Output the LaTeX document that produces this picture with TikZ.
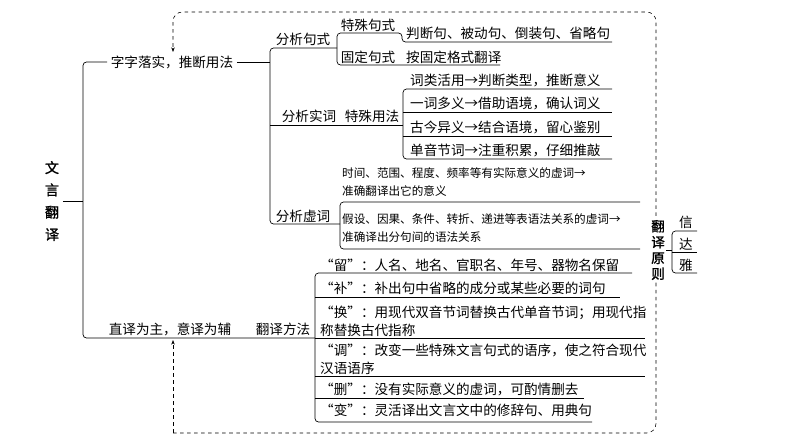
\documentclass[tikz,border=0pt]{standalone}
\usepackage{fontspec}
\newfontfamily\cjk{Noto Sans CJK SC}
\newfontfamily\cjkb{Noto Sans CJK SC}[FakeBold=1.5]
\usetikzlibrary{positioning}
\usetikzlibrary{arrows.meta}

\begin{document}
\begin{tikzpicture}[x=0.03cm,y=-0.03cm,
  txt/.style={inner sep=0pt,font=\cjk\fontsize{11.6}{15.5}\selectfont},
  item/.style={txt,anchor=west,align=left},
  narrow/.style={item,font=\cjk\fontsize{9.9}{15.5}\selectfont},
  ln/.style={line width=0.6pt},
  br/.style={line width=0.6pt,rounded corners=3pt},
  loop/.style={line width=0.5pt,dashed,rounded corners=8pt}]
\useasboundingbox (0,0) rectangle (794,447);

% root
\node[txt,font=\cjkb\fontsize{12}{19}\selectfont,align=center] (root) at (52,201) {文\\言\\翻\\译};
\draw[ln] (root.east)++(3pt,0) -- (83,201);

% top branch
\node[txt] (zizi) at (172,62) {字字落实，推断用法};
\draw[br] (zizi.west)++(-3pt,0) -- (83,62) -- (83,338) -- (315,338);
\draw[ln] (zizi.east)++(3pt,0) -- (270,62);
\draw[br] (337,48) -- (270,48) -- (270,224) -- (340,224);

% analysis of sentence patterns
\node[txt] (jushi) at (303,39) {分析句式};
\node[txt] (teshu) at (368,25) {特殊句式};
\node[txt] (guding) at (368,57) {固定句式};
\node[item] (pdj) at (406,33) {判断句、被动句、倒装句、省略句};
\node[item] (agd) at (406,57) {按固定格式翻译};
\draw[br] (612,42) -- (402,42) -- (402,33) -- (337,33) -- (337,65) -- (500,65);

% content words
\node[txt] (shici) at (309,116) {分析实词};
\node[txt] (yongfa) at (372,116) {特殊用法};
\draw[ln] (270,125) -- (403,125);
\node[item] (s1) at (410,80) {词类活用→判断类型，推断意义};
\node[item] (s2) at (410,103) {一词多义→借助语境，确认词义};
\node[item] (s3) at (410,127) {古今异义→结合语境，留心鉴别};
\node[item] (s4) at (410,150) {单音节词→注重积累，仔细推敲};
\draw[br] (612,89) -- (403,89) -- (403,159) -- (612,159);
\draw[ln] (403,112) -- (612,112);
\draw[ln] (403,136) -- (612,136);

% function words
\node[txt] (xuci) at (303,216) {分析虚词};
\node[narrow] (x1) at (342,182) {时间、范围、程度、频率等有实际意义的虚词→\\准确翻译出它的意义};
\node[narrow] (x2) at (342,228) {假设、因果、条件、转折、递进等表语法关系的虚词→\\准确译出分句间的语法关系};
\draw[br] (640,202) -- (340,202) -- (340,249) -- (640,249);

% bottom branch
\node[txt] (zhiyi) at (170,329) {直译为主，意译为辅};
\node[txt] (fangfa) at (283,329) {翻译方法};
\node[item] (f1) at (320,265) {“留”：人名、地名、官职名、年号、器物名保留};
\node[item] (f2) at (320,288) {“补”：补出句中省略的成分或某些必要的词句};
\node[item] (f3) at (320,321) {“换”：用现代双音节词替换古代单音节词；用现代指\\称替换古代指称};
\node[item] (f4) at (320,359) {“调”：改变一些特殊文言句式的语序，使之符合现代\\汉语语序};
\node[item] (f5) at (320,389) {“删”：没有实际意义的虚词，可酌情删去};
\node[item] (f6) at (320,410) {“变”：灵活译出文言文中的修辞句、用典句};
\draw[br] (632,273) -- (315,273) -- (315,422) -- (592,422);
\draw[ln] (315,297) -- (620,297);
\draw[ln] (315,338) -- (645,338);
\draw[ln] (315,376) -- (645,376);
\draw[ln] (315,398) -- (584,398);

% dashed loop
\draw[loop,-{Stealth[length=4pt]}] (173,433) -- (656,433) -- (656,12) -- (173,12) -- (173,52);
\draw[loop,-{Stealth[length=4pt]}] (173,433) -- (173,340);

% principles
\node[txt,font=\cjkb\fontsize{11.6}{13.5}\selectfont,align=center,fill=white,inner sep=1pt] (yuanze) at (658,250) {翻\\译\\原\\则};
\node[txt] (xin) at (686,222) {信};
\node[txt] (da) at (686,244) {达};
\node[txt] (ya) at (686,265) {雅};
\draw[ln] (yuanze.east) -- (672,250);
\draw[br] (697,231) -- (672,231) -- (672,273) -- (697,273);
\draw[ln] (672,252) -- (697,252);
\end{tikzpicture}
\end{document}
